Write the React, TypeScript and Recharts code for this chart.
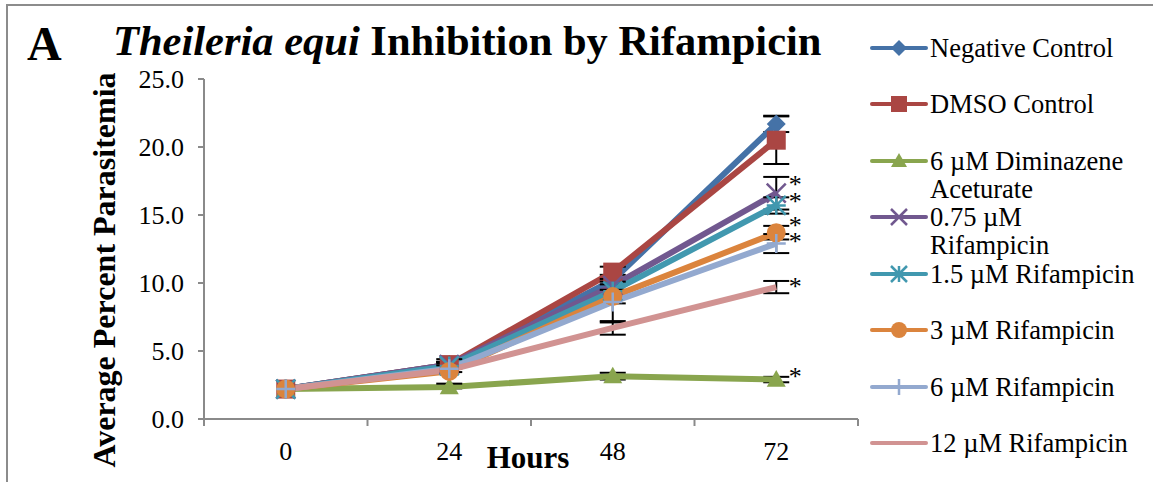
import React from "react";
import { LineChart, Line, XAxis, YAxis, ErrorBar, LabelList, Legend } from "recharts";

// hours after start; the outer values mark the category boundaries
const hours = [0, 24, 48, 72];
const hourBounds = [-12, 12, 36, 60, 84];
const yTicks = [0, 5, 10, 15, 20, 25];

const seriesNames = [
  "Negative Control",
  "DMSO Control",
  "6 µM Diminazene Aceturate",
  "0.75 µM Rifampicin",
  "1.5 µM Rifampicin",
  "3 µM Rifampicin",
  "6 µM Rifampicin",
  "12 µM Rifampicin",
];

const negativeControl = [2.2, 4.0, 10.2, 21.7];
const negativeControlErr = [0, 0.2, 0.4, 0.6];
const dmsoControl = [2.2, 4.0, 10.8, 20.5];
const dmsoControlErr = [0, 0.2, 0.4, 1.75];
const diminazene = [2.2, 2.35, 3.15, 2.9];
const diminazeneErr = [0, 0.1, 0.25, 0.2];
const rif075 = [2.2, 4.0, 9.8, 16.6];
const rif075Err = [0, 0.2, 0.5, 1.2];
const rif15 = [2.2, 3.9, 9.4, 15.7];
const rif15Err = [0, 0.2, 0.5, 0.6];
const rif3 = [2.2, 3.5, 9.0, 13.7];
const rif3Err = [0, 0.9, 0.5, 0.5];
const rif6 = [2.2, 3.7, 8.6, 12.9];
const rif6Err = [0, 0.25, 1.5, 0.7];
const rif12 = [2.2, 3.6, 6.7, 9.7];
const rif12Err = [0, 0, 0.5, 0.45];

const FONT = '"Liberation Serif", "Times New Roman", serif';
const AXIS = "#8a8a8a";

type Shape = "diamond" | "square" | "triangle" | "x" | "star" | "circle" | "plus" | "none";

const series = [
  { key: "neg", values: negativeControl, errors: negativeControlErr, color: "#4572A7", shape: "diamond", star: false, starDy: 0 },
  { key: "dmso", values: dmsoControl, errors: dmsoControlErr, color: "#AA4643", shape: "square", star: false, starDy: 0 },
  { key: "dim", values: diminazene, errors: diminazeneErr, color: "#89A54E", shape: "triangle", star: true, starDy: -7 },
  { key: "r075", values: rif075, errors: rif075Err, color: "#71588F", shape: "x", star: true, starDy: -12 },
  { key: "r15", values: rif15, errors: rif15Err, color: "#4198AF", shape: "star", star: true, starDy: -7 },
  { key: "r3", values: rif3, errors: rif3Err, color: "#DB843D", shape: "circle", star: true, starDy: -11 },
  { key: "r6", values: rif6, errors: rif6Err, color: "#93A9CF", shape: "plus", star: true, starDy: -6 },
  { key: "r12", values: rif12, errors: rif12Err, color: "#D19392", shape: "none", star: true, starDy: -4 },
].map((s, i) => ({ ...s, name: seriesNames[i], shape: s.shape as Shape }));

const rows = hours.map((h, i) => {
  const row: Record<string, number> = { hour: h };
  series.forEach((s) => {
    row[s.key] = s.values[i];
    row[s.key + "Err"] = s.errors[i];
  });
  return row;
});

function Marker({ shape, cx, cy, color, size }: { shape: Shape; cx: number; cy: number; color: string; size: number }) {
  const h = size / 2;
  switch (shape) {
    case "diamond":
      return <polygon points={`${cx},${cy - h} ${cx + h},${cy} ${cx},${cy + h} ${cx - h},${cy}`} fill={color} />;
    case "square":
      return <rect x={cx - h} y={cy - h} width={size} height={size} fill={color} />;
    case "triangle":
      return <polygon points={`${cx},${cy - h} ${cx + h},${cy + h * 0.75} ${cx - h},${cy + h * 0.75}`} fill={color} />;
    case "x":
      return (
        <path d={`M${cx - h},${cy - h}L${cx + h},${cy + h}M${cx - h},${cy + h}L${cx + h},${cy - h}`} stroke={color} strokeWidth={2.5} />
      );
    case "star":
      return (
        <path
          d={`M${cx - h},${cy - h}L${cx + h},${cy + h}M${cx - h},${cy + h}L${cx + h},${cy - h}M${cx},${cy - h}L${cx},${cy + h}M${cx - h},${cy}L${cx + h},${cy}`}
          stroke={color}
          strokeWidth={2.5}
        />
      );
    case "circle":
      return <circle cx={cx} cy={cy} r={h} fill={color} />;
    case "plus":
      return <path d={`M${cx},${cy - h}L${cx},${cy + h}M${cx - h},${cy}L${cx + h},${cy}`} stroke={color} strokeWidth={2.5} />;
    default:
      return null;
  }
}

function HourTick(props: any) {
  const { x, y, payload } = props;
  if (hours.includes(payload.value)) {
    return (
      <text x={x} y={y + 41} textAnchor="middle" fontFamily={FONT} fontSize={26} fill="#000">
        {payload.value}
      </text>
    );
  }
  return <line x1={x} x2={x} y1={y} y2={y + 7} stroke={AXIS} strokeWidth={2} />;
}

function LegendBox() {
  return (
    <div style={{ position: "relative", fontFamily: FONT, fontSize: 26.5, lineHeight: "28px", color: "#000" }}>
      {series.map((s, i) => (
        <div key={s.key} style={{ position: "absolute", left: 0, top: i * 56.43, display: "flex", alignItems: "flex-start" }}>
          <svg width={62} height={28} style={{ flex: "none" }}>
            <line x1={4} x2={58} y1={14} y2={14} stroke={s.color} strokeWidth={4} strokeLinecap="round" />
            <Marker shape={s.shape} cx={31} cy={14} color={s.color} size={16} />
          </svg>
          <div style={{ width: 210 }}>{s.name}</div>
        </div>
      ))}
    </div>
  );
}

export default function App() {
  return (
    <div style={{ position: "absolute", left: 0, top: 0, width: 1153, height: 482, background: "#fff" }}>
      <LineChart width={1153} height={482} data={rows} margin={{ top: 79, right: 295, bottom: 0, left: 124 }}>
        <XAxis
          dataKey="hour"
          type="number"
          domain={[-12, 84]}
          ticks={[...hourBounds, ...hours].sort((a, b) => a - b)}
          interval={0}
          tick={<HourTick />}
          tickLine={false}
          tickSize={0}
          tickMargin={0}
          axisLine={{ stroke: AXIS, strokeWidth: 2 }}
          height={63}
        />
        <YAxis
          type="number"
          domain={[0, 25]}
          ticks={yTicks}
          interval={0}
          width={80}
          tickFormatter={(v: number) => v.toFixed(1)}
          tick={{ fill: "#000", fontSize: 26, fontFamily: FONT }}
          tickLine={{ stroke: AXIS, strokeWidth: 2 }}
          tickSize={6}
          tickMargin={14}
          axisLine={{ stroke: AXIS, strokeWidth: 2 }}
        />
        <Legend
          layout="vertical"
          align="center"
          verticalAlign="middle"
          wrapperStyle={{ left: 868, top: 34, width: 285, height: 440 }}
          content={() => <LegendBox />}
        />
        {series.map((s) => (
          <Line
            key={s.key}
            dataKey={s.key}
            name={s.name}
            stroke={s.color}
            strokeWidth={6}
            isAnimationActive={false}
            activeDot={false}
            dot={(p: any) => <Marker key={`${s.key}-${p.index}`} shape={s.shape} cx={p.cx} cy={p.cy} color={s.color} size={19} />}
          >
            <ErrorBar dataKey={s.key + "Err"} direction="y" width={13} stroke="#000" strokeWidth={2} />
            <LabelList
              dataKey={s.key}
              content={(p: any) =>
                s.star && p.index === hours.length - 1 ? (
                  <text x={p.x + 19} y={p.y + s.starDy + 12} textAnchor="middle" fontFamily={FONT} fontSize={26} fill="#000">
                    *
                  </text>
                ) : null
              }
            />
          </Line>
        ))}
      </LineChart>
      <svg width={1153} height={482} style={{ position: "absolute", left: 0, top: 0, pointerEvents: "none" }}>
        <path d="M7,482V5H1153" fill="none" stroke="#8c8c8c" strokeWidth={2} />
        <text x={27} y={60} fontFamily={FONT} fontSize={48} fontWeight="bold" fill="#000">
          A
        </text>
        <text x={113} y={55} fontFamily={FONT} fontSize={42.5} fontWeight="bold" fill="#000">
          <tspan fontStyle="italic">Theileria equi</tspan>
          <tspan> Inhibition by Rifampicin</tspan>
        </text>
        <text
          x={115}
          y={270}
          transform="rotate(-90 115 270)"
          textAnchor="middle"
          fontFamily={FONT}
          fontSize={32}
          fontWeight="bold"
          fill="#000"
        >
          Average Percent Parasitemia
        </text>
        <text x={528} y={468} textAnchor="middle" fontFamily={FONT} fontSize={31} fontWeight="bold" fill="#000">
          Hours
        </text>
      </svg>
    </div>
  );
}
